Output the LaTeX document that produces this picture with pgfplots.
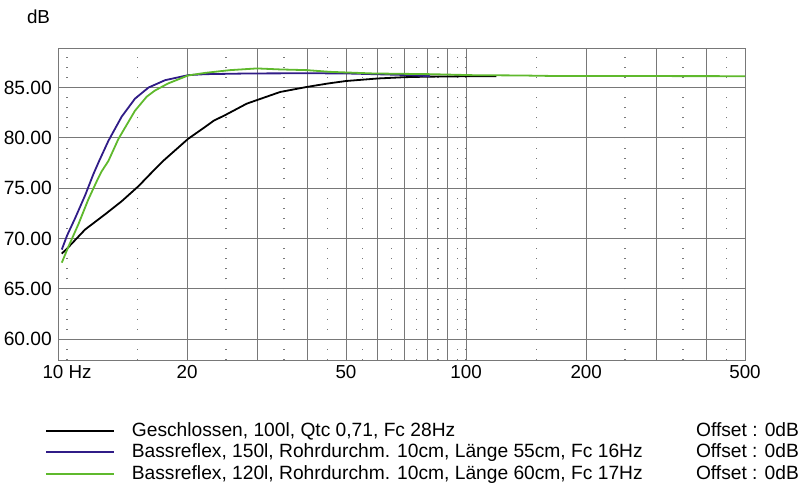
\documentclass[border=0pt]{standalone}
\usepackage{fontspec}
\setmainfont{Liberation Sans}
\usepackage{pgfplots}
\pgfplotsset{compat=1.18}
\definecolor{cblue}{RGB}{48,28,135}
\definecolor{cgreen}{RGB}{95,185,45}
\definecolor{gridgray}{RGB}{120,120,120}
\begin{document}
\fontsize{18.8pt}{22pt}\selectfont
\begin{tikzpicture}
\useasboundingbox (0,0) rectangle (800pt,494pt);
\begin{axis}[
  at={(58pt,134pt)}, anchor=south west,
  scale only axis, width=687pt, height=312pt,
  xmode=log, xmin=9.49, xmax=500, ymin=57.93, ymax=88.93,
  axis line style={gridgray, line width=0.8pt},
  xtick={10,20,50,100,200,500},
  xticklabels={10 Hz,20,50,100,200,500},
  ytick={60,65,70,75,80,85},
  yticklabels={60.00,65.00,70.00,75.00,80.00,85.00},
  minor xtick={10,15,25,35,45,55,65,75,85,95,100,150,250,350,450},
  extra x ticks={20,30,40,50,60,70,80,90,100,200,300,400},
  extra x tick labels={},
  extra x tick style={grid=major, major tick length=0pt},
  xmajorgrids=false, ymajorgrids=true, xminorgrids=true,
  major grid style={gridgray, line width=0.8pt, solid},
  minor grid style={gridgray, line width=1.4pt, dash pattern=on 1pt off 9.065pt, dash phase=9.96pt},
  major tick length=0pt, minor tick length=0pt,
  tick style={draw=none},
  xticklabel style={anchor=north, inner sep=0pt, yshift=-5pt, font=\fontsize{18.8pt}{22pt}\selectfont},
  yticklabel style={anchor=east, inner sep=0pt, xshift=-6pt, font=\fontsize{19.2pt}{22pt}\selectfont},
  legend style={at={(axis description cs:-0.01892,-0.1949)}, anchor=north west, draw=none, fill=none,
    inner sep=0pt, outer sep=0pt, row sep=2pt,
    nodes={inner sep=0pt, text height=15.5pt, text depth=4pt, anchor=west},
    font=\fontsize{19.2pt}{22pt}\selectfont},
  legend cell align=left,
  legend image code/.code={\draw[#1, line width=2pt] (0pt,0pt) -- (68pt,0pt); \path (85pt,0pt);},
]
\addplot[black, line width=1.8pt] coordinates {
(9.7,68.5) (10,69.0) (11.1,70.9) (12.45,72.4) (13.7,73.7) (15.1,75.2) (16.15,76.4)
(17.4,77.7) (20.1,79.9) (22.2,81.1) (23.3,81.7) (25,82.3) (28.2,83.4) (34.2,84.56)
(39.9,85.06) (45,85.4) (50,85.65) (60,85.9) (70,86.03) (80,86.08) (100,86.12) (119,86.13)
};
\addlegendentry{\makebox[667pt]{Geschlossen, 100l, Qtc 0,71, Fc 28Hz\hfill Offset : 0dB}}
\addplot[cblue, line width=1.8pt] coordinates {
(9.7,68.9) (10,70.3) (10.47,72.0) (11.1,74.3) (11.64,76.4) (12.0,77.6) (12.69,79.7)
(13.7,82.1) (14.8,83.9) (16.0,85.0) (17.6,85.73) (20.1,86.23) (22.2,86.33) (28.7,86.4)
(40,86.42) (50,86.4) (58.5,86.33) (70,86.25) (81.3,86.13)
};
\addlegendentry{\makebox[667pt]{Bassreflex, 150l, Rohrdurchm. 10cm, Länge 55cm, Fc 16Hz\hfill Offset : 0dB}}
\addplot[cgreen, line width=1.8pt] coordinates {
(9.7,67.6) (10.08,69.2) (10.67,71.4) (11.31,73.9) (11.87,75.7) (12.22,76.7) (12.69,77.7)
(13.45,79.9) (14.8,82.7) (15.84,84.1) (16.6,84.7) (17.9,85.4) (20.1,86.2) (22.2,86.46)
(25.6,86.73) (29.9,86.9) (34.2,86.8) (39.9,86.73) (45.6,86.56) (58.5,86.4) (81.3,86.33)
(104,86.23) (137,86.2) (165,86.15) (500,86.13)
};
\addlegendentry{\makebox[667pt]{Bassreflex, 120l, Rohrdurchm. 10cm, Länge 60cm, Fc 17Hz\hfill Offset : 0dB}}
\end{axis}
\node[font=\fontsize{18.8pt}{22pt}\selectfont, inner sep=0pt] at (38.5pt,477.5pt) {dB};
\end{tikzpicture}
\end{document}
